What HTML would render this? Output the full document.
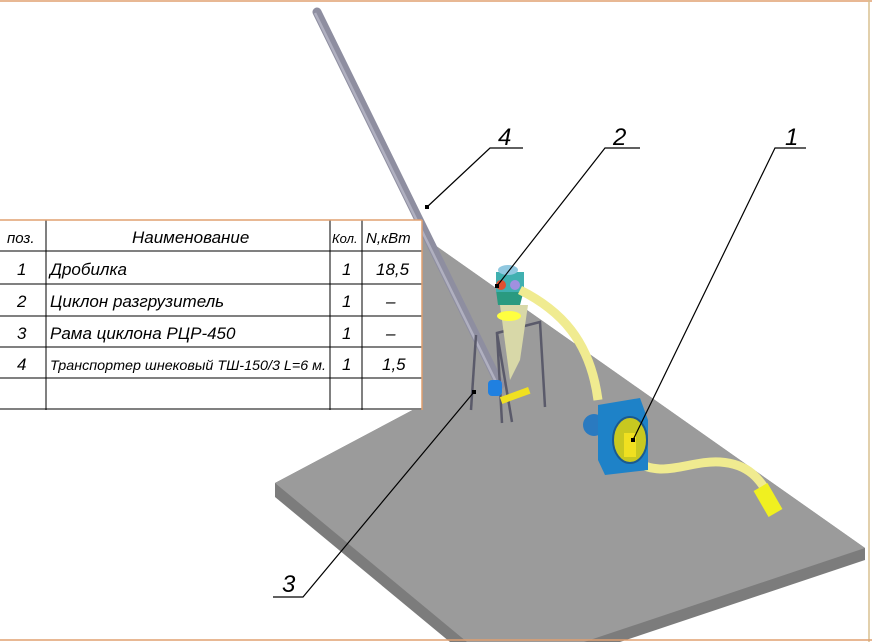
<!DOCTYPE html>
<html><head><meta charset="utf-8"><style>
html,body{margin:0;background:#fff;overflow:hidden;width:872px;height:642px;}
svg{display:block;}
text{font-family:"Liberation Sans",sans-serif;font-style:italic;}
</style></head><body>
<svg width="872" height="642" viewBox="0 0 872 642" xmlns="http://www.w3.org/2000/svg">
<rect x="0" y="0" width="872" height="642" fill="#fff"/>
<!-- plate -->
<polygon points="275,483 422,405 422,236 865,548 865,560 620,642 450,642 275,497" fill="#7c7c7c"/>
<polygon points="275,483 422,405 422,236 865,548 584,642 467,642" fill="#9b9b9b"/>
<!-- conveyor tube -->
<line x1="317" y1="12" x2="500" y2="385" stroke="#8e8ea0" stroke-width="9" stroke-linecap="round"/>
<line x1="315" y1="13" x2="498" y2="386" stroke="#b0b0c0" stroke-width="2.5"/>
<!-- frame -->
<g stroke="#5a5a6a" stroke-width="2.5" fill="none">
<polyline points="502,423 497,333 540,322 545,407"/>
<line x1="497" y1="333" x2="512" y2="422"/>
<line x1="476" y1="335" x2="471" y2="410"/>
</g>
<!-- cyclone -->
<polygon points="500,305 528,305 520,360 510,380" fill="#d8d8a8"/>
<ellipse cx="509" cy="316" rx="12" ry="5" fill="#ffff40"/>
<polygon points="496,290 524,290 520,305 498,305" fill="#2a9a80"/>
<rect x="496" y="272" width="28" height="20" fill="#40b0b0"/>
<ellipse cx="508" cy="270" rx="10" ry="5" fill="#90c8e0"/>
<circle cx="501" cy="285" r="5" fill="#e05030"/>
<circle cx="515" cy="285" r="5" fill="#a090e0"/>
<!-- hoses -->
<path d="M520,290 C560,310 590,340 598,400" stroke="#f0eb90" stroke-width="9" fill="none"/>
<path d="M634,460 C660,480 690,460 720,462 C750,464 760,480 770,497" stroke="#f0eb90" stroke-width="9" fill="none"/>
<rect x="760" y="485" width="16" height="30" fill="#f0f020" transform="rotate(-30 768 500)"/>
<!-- small motor under cyclone -->
<rect x="488" y="380" width="14" height="16" rx="4" fill="#2080e0"/>
<rect x="500" y="392" width="30" height="7" fill="#f0e020" transform="rotate(-20 515 395)"/>
<!-- grinder -->
<circle cx="594" cy="425" r="11" fill="#2a7ac0"/>
<polygon points="598,405 640,398 648,420 648,470 605,475 598,460" fill="#1e82c8"/>
<ellipse cx="630" cy="440" rx="17" ry="23" fill="#c8c820" stroke="#1a5a90" stroke-width="2"/>
<rect x="624" y="433" width="12" height="24" fill="#f0e020"/>
<!-- table -->
<g>
<rect x="0" y="220" width="422" height="190" fill="#fff"/>
<g stroke="#000" stroke-width="1">
<line x1="0" y1="251" x2="422" y2="251"/>
<line x1="0" y1="284" x2="422" y2="284"/>
<line x1="0" y1="316" x2="422" y2="316"/>
<line x1="0" y1="347" x2="422" y2="347"/>
<line x1="0" y1="378" x2="422" y2="378"/>
<line x1="0" y1="409" x2="422" y2="409"/>
<line x1="46" y1="220" x2="46" y2="410"/>
<line x1="330" y1="220" x2="330" y2="410"/>
<line x1="362" y1="220" x2="362" y2="410"/>
</g>
<line x1="0" y1="220" x2="422" y2="220" stroke="#e0a070" stroke-width="1.5"/>
<line x1="422" y1="220" x2="422" y2="410" stroke="#e0a070" stroke-width="1.5"/>
<g font-size="17" fill="#000">
<text x="7" y="243" font-size="15">поз.</text>
<text x="132" y="243">Наименование</text>
<text x="332" y="243" font-size="13">Кол.</text>
<text x="366" y="243" font-size="15">N,кВт</text>
<text x="17" y="275">1</text><text x="50" y="275">Дробилка</text><text x="342" y="275">1</text><text x="376" y="275">18,5</text>
<text x="17" y="307">2</text><text x="50" y="307">Циклон разгрузитель</text><text x="342" y="307">1</text><text x="386" y="307">–</text>
<text x="17" y="339">3</text><text x="50" y="339">Рама циклона РЦР-450</text><text x="342" y="339">1</text><text x="386" y="339">–</text>
<text x="17" y="370">4</text><text x="50" y="370" font-size="14" textLength="276" lengthAdjust="spacingAndGlyphs">Транспортер шнековый  ТШ-150/3 L=6 м.</text><text x="342" y="370">1</text><text x="382" y="370">1,5</text>
</g>
</g>
<!-- leaders -->
<g stroke="#000" stroke-width="1.2" fill="none">
<polyline points="427,207 490,148 523,148"/>
<polyline points="497,286 605,148 640,148"/>
<polyline points="633,440 775,148 806,148"/>
<polyline points="474,392 303,597 273,597"/>
</g>
<rect x="425" y="205" width="4" height="4" fill="#000"/>
<rect x="495" y="284" width="4" height="4" fill="#000"/>
<rect x="631" y="438" width="4" height="4" fill="#000"/>
<rect x="472" y="390" width="4" height="4" fill="#000"/>
<g font-size="24" fill="#000">
<text x="498" y="145">4</text>
<text x="613" y="145">2</text>
<text x="785" y="145">1</text>
<text x="282" y="592">3</text>
</g>
<!-- frame border -->
<line x1="0" y1="1" x2="872" y2="1" stroke="#e0a070" stroke-width="1.5"/>
<line x1="869" y1="0" x2="869" y2="642" stroke="#d8c090" stroke-width="1.5"/>
<line x1="0" y1="640" x2="872" y2="640" stroke="#e0a070" stroke-width="1.5"/>
</svg>
</body></html>
